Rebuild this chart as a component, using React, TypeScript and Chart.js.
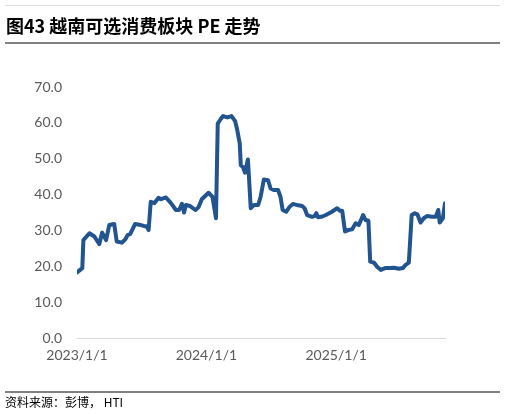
import React, { useEffect, useRef } from "react";
import { Chart, registerables } from "chart.js";

Chart.register(...registerables);

const dates = [
  "2023-01-01", "2023-01-16", "2023-01-19", "2023-02-05", "2023-02-19", "2023-03-05",
  "2023-03-13", "2023-03-24", "2023-04-02", "2023-04-16", "2023-04-23", "2023-05-08",
  "2023-05-17", "2023-05-24", "2023-05-31", "2023-06-14", "2023-06-26", "2023-07-10",
  "2023-07-16", "2023-07-22", "2023-07-28", "2023-08-07", "2023-08-19", "2023-08-26",
  "2023-09-09", "2023-09-23", "2023-10-07", "2023-10-16", "2023-10-24", "2023-10-30",
  "2023-11-04", "2023-11-16", "2023-12-01", "2023-12-10", "2023-12-19", "2024-01-07",
  "2024-01-18", "2024-01-28", "2024-02-02", "2024-02-10", "2024-02-17", "2024-02-29",
  "2024-03-12", "2024-03-22", "2024-03-28", "2024-04-04", "2024-04-07", "2024-04-13",
  "2024-04-19", "2024-04-27", "2024-04-30", "2024-05-05", "2024-05-14", "2024-05-26",
  "2024-06-02", "2024-06-11", "2024-06-23", "2024-06-30", "2024-07-09", "2024-07-21",
  "2024-07-28", "2024-08-03", "2024-08-13", "2024-08-22", "2024-09-01", "2024-09-16",
  "2024-09-27", "2024-10-04", "2024-10-11", "2024-10-25", "2024-11-01", "2024-11-06",
  "2024-11-11", "2024-11-20", "2024-12-03", "2024-12-20", "2025-01-04", "2025-01-11",
  "2025-01-18", "2025-01-26", "2025-02-04", "2025-02-15", "2025-02-25", "2025-03-06",
  "2025-03-18", "2025-03-25", "2025-04-02", "2025-04-07", "2025-04-18", "2025-04-27",
  "2025-05-07", "2025-05-19", "2025-06-01", "2025-06-13", "2025-06-27", "2025-07-08",
  "2025-07-16", "2025-07-25", "2025-08-02", "2025-08-11", "2025-08-18", "2025-08-27",
  "2025-09-05", "2025-09-14", "2025-09-28", "2025-10-09", "2025-10-16", "2025-10-20",
  "2025-10-29", "2025-11-04",
];

const peValues = [
  18.3, 19.5, 27.3, 29.2, 28.3, 26.2,
  29.4, 27.3, 31.5, 31.8, 26.9, 26.6,
  27.5, 28.7, 29.0, 31.8, 31.6, 31.2,
  31.2, 30.1, 38.0, 37.6, 39.1, 38.7,
  39.2, 37.6, 35.7, 35.7, 37.4, 35.0,
  37.1, 36.8, 35.7, 36.5, 38.7, 40.5,
  39.4, 33.4, 59.8, 61.0, 61.9, 61.5,
  61.9, 60.5, 58.0, 54.3, 48.2, 47.7,
  46.1, 49.8, 45.0, 36.2, 37.1, 37.1,
  39.4, 44.2, 44.0, 41.7, 41.3, 41.3,
  39.4, 35.7, 35.2, 36.5, 37.4, 37.0,
  36.8, 36.2, 34.3, 33.8, 34.0, 34.8,
  33.7, 33.8, 34.3, 35.2, 36.2, 35.5,
  35.5, 29.7, 30.1, 30.3, 32.0, 31.5,
  34.3, 32.9, 32.7, 21.3, 21.0, 19.8,
  19.0, 19.5, 19.5, 19.6, 19.3, 19.5,
  20.4, 21.0, 34.3, 34.8, 34.5, 32.2,
  33.4, 34.0, 33.8, 33.8, 35.7, 32.2,
  33.4, 37.6,
];

const xTickDates = ["2023-01-01", "2024-01-01", "2025-01-01"];
const xTickLabels = ["2023/1/1", "2024/1/1", "2025/1/1"];
const yMin = 0;
const yMax = 70;
const yStep = 10;

const titleText = "图43 越南可选消费板块 PE 走势";
const sourceText = "资料来源：彭博， HTI";

const DAY_MS = 86400000;
const ORIGIN = Date.parse(xTickDates[0]);
const toDay = (s: string) => Math.round((Date.parse(s) - ORIGIN) / DAY_MS);

export default function App() {
  const canvasRef = useRef<HTMLCanvasElement | null>(null);

  useEffect(() => {
    document.body.style.margin = "0";
    const canvas = canvasRef.current;
    if (!canvas) return;
    const tickFont = { family: "Lato, 'Open Sans', sans-serif", size: 14 };
    const chart = new Chart(canvas, {
      type: "line",
      data: {
        datasets: [
          {
            data: dates.map((d, i) => ({ x: toDay(d), y: peValues[i] })),
            borderColor: "#22548F",
            borderWidth: 4,
            pointRadius: 0,
            tension: 0,
            fill: false,
            borderJoinStyle: "round",
            borderCapStyle: "round",
          },
        ],
      },
      options: {
        responsive: false,
        animation: false,
        devicePixelRatio: 1,
        layout: { padding: { top: 87, right: 61, bottom: 46, left: 0 } },
        plugins: { legend: { display: false }, tooltip: { enabled: false } },
        scales: {
          x: {
            type: "linear",
            min: 0,
            max: toDay(dates[dates.length - 1]),
            afterBuildTicks: (scale: any) => {
              scale.ticks = xTickDates.map((d) => ({ value: toDay(d) }));
            },
            afterFit: (scale: any) => {
              scale.height = 30;
            },
            ticks: {
              autoSkip: false,
              maxRotation: 0,
              padding: 9,
              color: "#595959",
              font: tickFont,
              callback: (v: any) => {
                const idx = xTickDates.findIndex((d) => toDay(d) === v);
                return idx >= 0 ? xTickLabels[idx] : "";
              },
            },
            grid: { display: false, drawTicks: false },
            border: { display: true, color: "#d9d9d9", width: 1 },
          },
          y: {
            min: yMin,
            max: yMax,
            afterFit: (scale: any) => {
              scale.width = 77;
            },
            ticks: {
              stepSize: yStep,
              padding: 15,
              color: "#595959",
              font: tickFont,
              callback: (v: any) => Number(v).toFixed(1),
            },
            grid: { display: false, drawTicks: false },
            border: { display: false },
          },
        },
      },
    } as any);
    return () => chart.destroy();
  }, []);

  return (
    <div style={{ position: "fixed", left: 0, top: 0, width: 506, height: 414, background: "#fff" }}>
      <canvas ref={canvasRef} width={506} height={414} style={{ position: "absolute", left: 0, top: 0, width: 506, height: 414 }} />
      <div style={{ position: "absolute", left: 5, top: 5, width: 495, height: 1, background: "#dcdcdc" }} />
      <div
        style={{
          position: "absolute",
          left: 6,
          top: 13,
          fontFamily: "'Noto Sans CJK SC', sans-serif",
          fontWeight: 700,
          fontSize: 18,
          lineHeight: "24px",
          color: "#000",
          whiteSpace: "nowrap",
        }}
      >
        {titleText}
      </div>
      <div style={{ position: "absolute", left: 5, top: 42, width: 495, height: 2, background: "#808080" }} />
      <div style={{ position: "absolute", left: 5, top: 391, width: 495, height: 2, background: "#808080" }} />
      <div
        style={{
          position: "absolute",
          left: 5,
          top: 394,
          fontFamily: "'Noto Sans CJK SC', sans-serif",
          fontSize: 12,
          lineHeight: "16px",
          color: "#000",
          whiteSpace: "nowrap",
        }}
      >
        {sourceText}
      </div>
    </div>
  );
}
